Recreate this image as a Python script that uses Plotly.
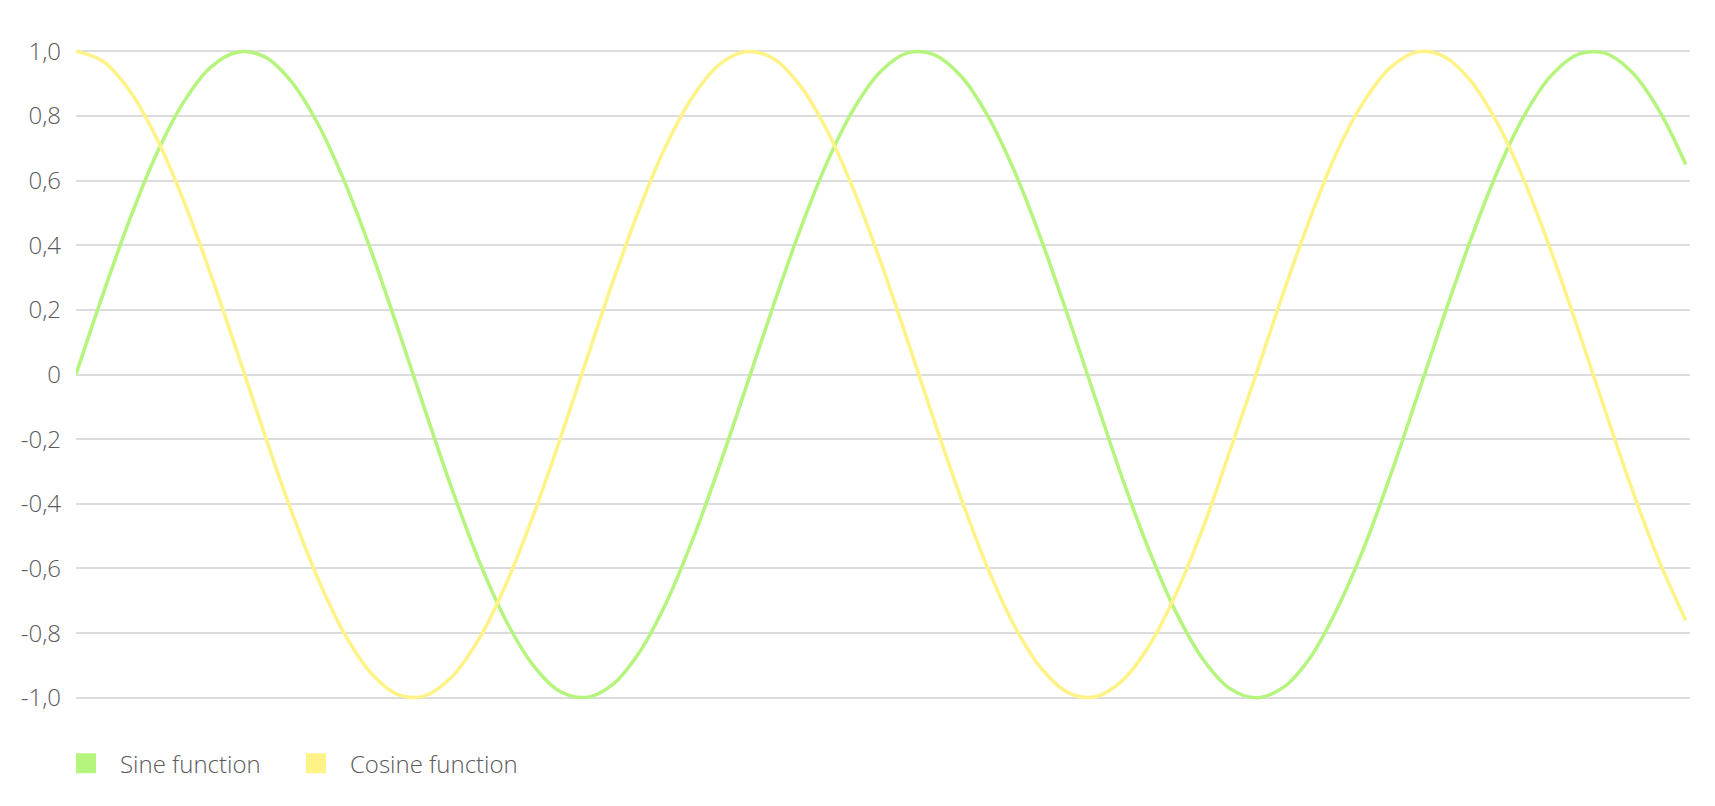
import plotly.graph_objects as go

# angle (rad) sampled every 0.25
x_vals = [
    0.00, 0.25, 0.50, 0.75, 1.00, 1.25, 1.50, 1.75, 2.00, 2.25,
    2.50, 2.75, 3.00, 3.25, 3.50, 3.75, 4.00, 4.25, 4.50, 4.75,
    5.00, 5.25, 5.50, 5.75, 6.00, 6.25, 6.50, 6.75, 7.00, 7.25,
    7.50, 7.75, 8.00, 8.25, 8.50, 8.75, 9.00, 9.25, 9.50, 9.75,
    10.00, 10.25, 10.50, 10.75, 11.00, 11.25, 11.50, 11.75, 12.00, 12.25,
    12.50, 12.75, 13.00, 13.25, 13.50, 13.75, 14.00, 14.25, 14.50, 14.75,
    15.00,
]

sine_vals = [
    0.000, 0.247, 0.479, 0.682, 0.841, 0.949, 0.997, 0.984, 0.909, 0.778,
    0.598, 0.382, 0.141, -0.108, -0.351, -0.572, -0.757, -0.895, -0.978, -0.999,
    -0.959, -0.859, -0.706, -0.508, -0.279, -0.033, 0.215, 0.450, 0.657, 0.823,
    0.938, 0.995, 0.989, 0.922, 0.798, 0.625, 0.412, 0.174, -0.075, -0.321,
    -0.544, -0.735, -0.880, -0.971, -1.000, -0.968, -0.876, -0.726, -0.537, -0.311,
    -0.066, 0.183, 0.420, 0.632, 0.804, 0.926, 0.991, 0.994, 0.935, 0.818,
    0.650,
]

cosine_vals = [
    1.000, 0.969, 0.878, 0.732, 0.540, 0.315, 0.071, -0.178, -0.416, -0.628,
    -0.801, -0.924, -0.990, -0.994, -0.936, -0.821, -0.654, -0.446, -0.211, 0.038,
    0.284, 0.512, 0.709, 0.861, 0.960, 0.999, 0.977, 0.893, 0.754, 0.568,
    0.347, 0.104, -0.146, -0.386, -0.602, -0.781, -0.911, -0.985, -0.997, -0.947,
    -0.839, -0.678, -0.476, -0.239, 0.004, 0.252, 0.483, 0.688, 0.844, 0.950,
    0.998, 0.983, 0.907, 0.775, 0.595, 0.378, 0.137, -0.112, -0.355, -0.575,
    -0.760,
]

y_ticks = [1.0, 0.8, 0.6, 0.4, 0.2, 0.0, -0.2, -0.4, -0.6, -0.8, -1.0]
y_tick_labels = ["1,0", "0,8", "0,6", "0,4", "0,2", "0", "-0,2", "-0,4", "-0,6", "-0,8", "-1,0"]

# name, values, colour, which legend box
series = [
    ("Sine function", sine_vals, "#b5f47d", "legend"),
    ("Cosine function", cosine_vals, "#fff287", "legend2"),
]

fig = go.Figure()

for name, vals, color, leg in series:
    # the curve itself
    fig.add_trace(
        go.Scatter(
            x=x_vals,
            y=vals,
            mode="lines",
            line=dict(color=color, width=3.5, shape="spline"),
            showlegend=False,
            hoverinfo="skip",
        )
    )
    # square swatch for the legend (legend caps marker size, border makes it bigger)
    fig.add_trace(
        go.Scatter(
            x=[None],
            y=[None],
            mode="markers",
            name=name,
            legend=leg,
            marker=dict(symbol="square", size=16, color=color,
                        line=dict(color=color, width=4)),
        )
    )

legend_style = dict(
    orientation="h",
    xanchor="left",
    y=-0.096,
    yanchor="middle",
    font=dict(size=24, color="#5a5a5a"),
    itemwidth=58,
)

# the page body adds 8px around the figure, so the figure is 16px smaller
fig.update_layout(
    width=1699,
    height=790,
    margin=dict(l=68, r=17, t=40, b=94),
    paper_bgcolor="white",
    plot_bgcolor="white",
    font=dict(family="Open Sans", size=24, color="#5a5a5a", weight=300),
    showlegend=True,
    legend=dict(x=-0.0149, **legend_style),
    legend2=dict(x=0.1276, **legend_style),
    xaxis=dict(
        range=[0, 15.04],
        showgrid=False,
        showticklabels=False,
        zeroline=False,
        showline=False,
        ticks="",
    ),
    yaxis=dict(
        range=[-1.01, 1.01],
        tickvals=y_ticks,
        ticktext=y_tick_labels,
        showgrid=True,
        gridcolor="#dcdcdc",
        gridwidth=2,
        zeroline=False,
        showline=False,
        ticks="",
        ticklabelstandoff=14,
    ),
)

fig.write_html("out.html")
